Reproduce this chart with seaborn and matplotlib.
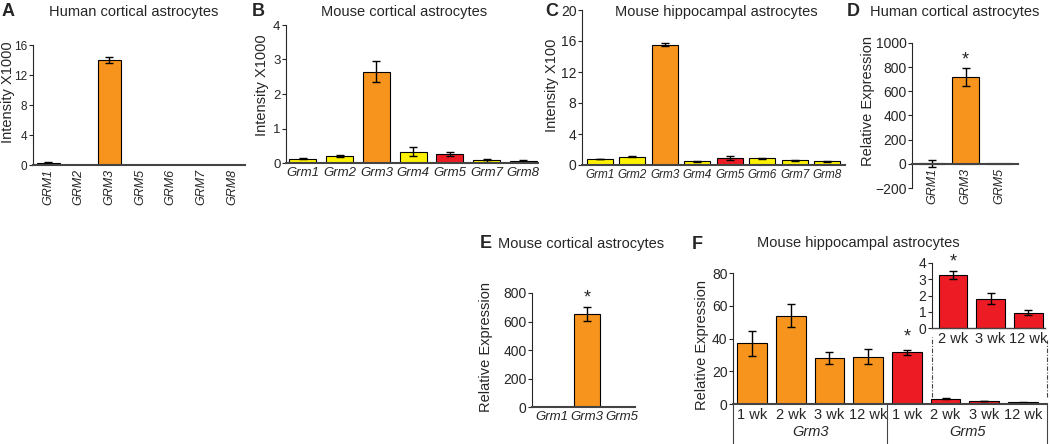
import numpy as np
import pandas as pd
import matplotlib.pyplot as plt
import seaborn as sns

# renkler
YEL = "#fff200"
ORA = "#f7941d"
RED = "#ed1c24"

# A - human cortical astrocytes (microarray)
a_genes = ["GRM1", "GRM2", "GRM3", "GRM5", "GRM6", "GRM7", "GRM8"]
a_vals = [0.3, 0.05, 14.0, 0.05, 0.05, 0.05, 0.05]
a_errs = [0.08, 0, 0.35, 0, 0, 0, 0]
a_cols = [YEL, YEL, ORA, YEL, YEL, YEL, YEL]

# B - mouse cortical astrocytes
b_genes = ["Grm1", "Grm2", "Grm3", "Grm4", "Grm5", "Grm7", "Grm8"]
b_vals = [0.13, 0.2, 2.65, 0.32, 0.27, 0.08, 0.07]
b_errs = [0.02, 0.03, 0.3, 0.13, 0.06, 0.04, 0.03]
b_cols = [YEL, YEL, ORA, YEL, RED, YEL, YEL]

# C - mouse hippocampal astrocytes
c_genes = ["Grm1", "Grm2", "Grm3", "Grm4", "Grm5", "Grm6", "Grm7", "Grm8"]
c_vals = [0.75, 1.05, 15.5, 0.5, 0.95, 0.85, 0.6, 0.5]
c_errs = [0.03, 0.06, 0.2, 0.05, 0.25, 0.1, 0.05, 0.05]
c_cols = [YEL, YEL, ORA, YEL, RED, YEL, YEL, YEL]

# D - human cortical, qPCR
d_genes = ["GRM1", "GRM3", "GRM5"]
d_vals = [5, 720, 3]
d_errs = [30, 75, 0]
d_cols = [YEL, ORA, RED]

# E - mouse cortical, qPCR
e_genes = ["Grm1", "Grm3", "Grm5"]
e_vals = [0, 655, 3]
e_errs = [0, 50, 0]
e_cols = [YEL, ORA, RED]

# F - mouse hippocampal, ages
f_ids = ["g3_1", "g3_2", "g3_3", "g3_12", "g5_1", "g5_2", "g5_3", "g5_12"]
f_ticks = ["1 wk", "2 wk", "3 wk", "12 wk", "1 wk", "2 wk", "3 wk", "12 wk"]
f_vals = [37, 54, 28, 29, 31.5, 3.2, 1.8, 0.95]
f_errs = [7.5, 7, 3.5, 4.5, 1.5, 0.3, 0.2, 0.1]
f_cols = [ORA, ORA, ORA, ORA, RED, RED, RED, RED]
f_groups = ["Grm3", "Grm5"]

# F inset
i_ticks = ["2 wk", "3 wk", "12 wk"]
i_vals = [3.25, 1.8, 0.95]
i_errs = [0.25, 0.35, 0.15]
i_cols = [RED, RED, RED]

sns.set_style("ticks")
plt.rcParams["font.family"] = ["Liberation Sans", "DejaVu Sans"]
plt.rcParams["font.size"] = 10

W, H = 1050, 444
fig = plt.figure(figsize=(W / 100, H / 100), dpi=100)


def px_axes(left, right, bottom, top):
    # piksel koordinatlarından eksen oluştur
    ax = fig.add_axes([left / W, 1 - bottom / H, (right - left) / W, (bottom - top) / H])
    ax.px = (left, right, bottom, top)
    return ax


def ylab(ax, text, xc, yc):
    # eksen yazısını piksel konumuna koy (merkez)
    left, right, bottom, top = ax.px
    ax.set_ylabel(text, fontsize=10.5, va="center")
    ax.yaxis.set_label_coords((xc - left) / (right - left), (bottom - yc) / (bottom - top))


def xlabels(ax, labels, size, rot=0, italic=True):
    ax.set_xticks(range(len(labels)))
    ax.set_xticklabels(labels, rotation=rot, style="italic" if italic else "normal", fontsize=size)
    ax.tick_params(axis="x", length=0, pad=3)


def bars(ax, names, vals, errs, cols, width, ysize=10):
    df = pd.DataFrame({"gen": names, "val": vals})
    sns.barplot(data=df, x="gen", y="val", hue="gen", order=names,
                palette=dict(zip(names, cols)), saturation=1, width=width,
                edgecolor="black", linewidth=0.8, legend=False, ax=ax)
    idx = [i for i, e in enumerate(errs) if e > 0]
    ax.errorbar(idx, [vals[i] for i in idx], yerr=[errs[i] for i in idx],
                fmt="none", ecolor="black", elinewidth=1, capsize=3, capthick=1)
    ax.set_xlabel("")
    ax.set_ylabel("")
    ax.tick_params(axis="y", length=3, width=0.8, pad=1, labelsize=ysize)
    sns.despine(ax=ax)
    ax.spines["left"].set_linewidth(0.8)
    ax.spines["bottom"].set_linewidth(1.5)
    ax.spines["bottom"].set_color("#444444")
    ax.patch.set_alpha(0)


# A
ax = px_axes(33, 245, 165, 45)
bars(ax, a_genes, a_vals, a_errs, a_cols, 0.75, ysize=8.5)
xlabels(ax, a_genes, 9, rot=90)
ax.set_xlim(-0.49, 6.42)
ax.set_ylim(0, 16)
ax.set_yticks([0, 4, 8, 12, 16])
ylab(ax, "Intensity X1000", 8, 92)

# B
ax = px_axes(286, 538, 163, 25)
bars(ax, b_genes, b_vals, b_errs, b_cols, 0.74, ysize=9.5)
xlabels(ax, b_genes, 9.5)
ax.set_xlim(-0.46, 6.4)
ax.set_ylim(0, 4)
ax.set_yticks([0, 1, 2, 3, 4])
ylab(ax, "Intensity X1000", 262, 85)

# C
ax = px_axes(582, 845, 165, 10)
bars(ax, c_genes, c_vals, c_errs, c_cols, 0.8)
xlabels(ax, c_genes, 8.5)
ax.set_xlim(-0.55, 7.54)
ax.set_ylim(0, 20)
ax.set_yticks([0, 4, 8, 12, 16, 20])
ylab(ax, "Intensity X100", 552, 85)

# D
ax = px_axes(912, 1018, 188, 43)
bars(ax, d_genes, d_vals, d_errs, d_cols, 0.8)
ax.spines["bottom"].set_position(("data", 0))
xlabels(ax, d_genes, 9, rot=90)
ax.set_xlim(-0.6, 2.57)
ax.set_ylim(-200, 1000)
ax.set_yticks(range(-200, 1001, 200))
ylab(ax, "Relative Expression", 868, 101)
ax.text(1, 858, "*", ha="center", va="center", fontsize=13)

# E
ax = px_axes(532, 635, 407, 293)
bars(ax, e_genes, e_vals, e_errs, e_cols, 0.77)
xlabels(ax, e_genes, 9.5)
ax.set_xlim(-0.57, 2.37)
ax.set_ylim(0, 800)
ax.set_yticks(range(0, 801, 200))
ylab(ax, "Relative Expression", 486, 347)
ax.text(1, 765, "*", ha="center", va="center", fontsize=13)

# F
axf = px_axes(733, 1047, 404, 273)
bars(axf, f_ids, f_vals, f_errs, f_cols, 0.77)
xlabels(axf, f_ticks, 10.5, italic=False)
axf.set_xlim(-0.49, 7.62)
axf.set_ylim(0, 80)
axf.set_yticks(range(0, 81, 20))
ylab(axf, "Relative Expression", 702, 345)
axf.text(4, 41, "*", ha="center", va="center", fontsize=13)
# grup çizgileri ve isimleri
trans = axf.get_xaxis_transform()
for xv in [-0.49, 3.5, 7.62]:
    axf.plot([xv, xv], [0, -40 / 131], color="#444444", lw=0.8, transform=trans, clip_on=False)
for xv, g in zip([1.5, 5.56], f_groups):
    axf.text(xv, -28 / 131, g, ha="center", va="center", style="italic", fontsize=10.5, transform=trans)
# iç grafiğe kesikli çizgiler
for xv, y0 in [(4.65, 40.9), (7.62, 39)]:
    axf.plot([xv, xv], [4.3, y0], color="#444444", lw=0.8, ls=(0, (4, 1.5, 1, 1.5)), clip_on=False)

# F inset
ax = px_axes(932, 1045, 328, 263)
bars(ax, ["i2", "i3", "i12"], i_vals, i_errs, i_cols, 0.77)
xlabels(ax, i_ticks, 10.5, italic=False)
ax.set_xlim(-0.56, 2.45)
ax.set_ylim(0, 4)
ax.set_yticks([0, 1, 2, 3, 4])
ax.spines["bottom"].set_linewidth(1.0)
ax.text(0, 4.05, "*", ha="center", va="center", fontsize=13, clip_on=False)

# panel harfleri ve başlıklar
letters = [("A", 8, 12), ("B", 258, 12), ("C", 552, 12), ("D", 853, 12), ("E", 486, 243), ("F", 697, 244)]
for t, x, y in letters:
    fig.text(x / W, 1 - y / H, t, ha="center", va="center", fontsize=13, fontweight="bold")
titles = [("Human cortical astrocytes", 134, 12), ("Mouse cortical astrocytes", 404, 12),
          ("Mouse hippocampal astrocytes", 716, 12), ("Human cortical astrocytes", 955, 12),
          ("Mouse cortical astrocytes", 581, 244), ("Mouse hippocampal astrocytes", 858, 243)]
for t, x, y in titles:
    fig.text(x / W, 1 - y / H, t, ha="center", va="center", fontsize=10.5)

fig.savefig("out.png", dpi=100)
